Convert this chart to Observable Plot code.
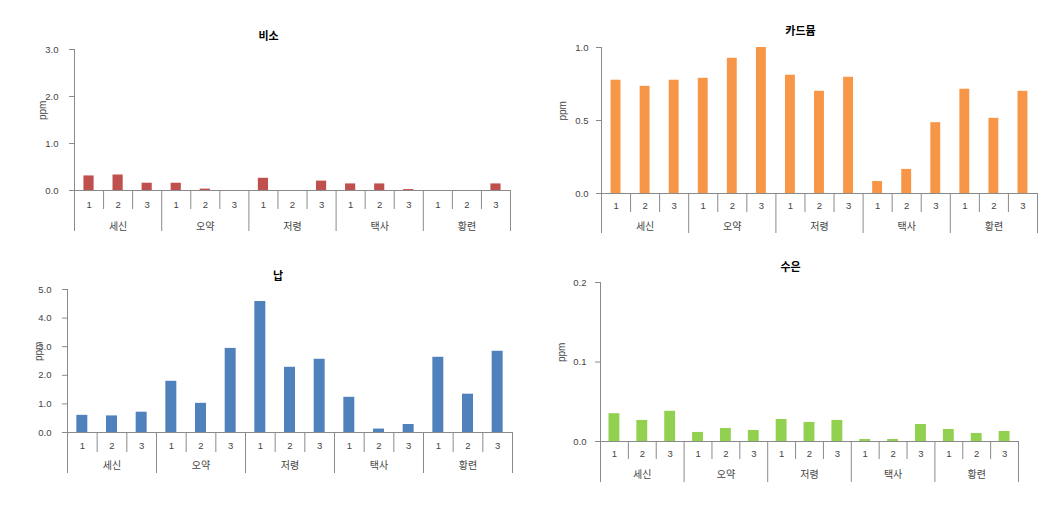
<!DOCTYPE html>
<html>
<head>
<meta charset="utf-8">
<script src="https://cdn.jsdelivr.net/npm/d3@7"></script>
<script src="https://cdn.jsdelivr.net/npm/@observablehq/plot@0.6"></script>
<style>
  html, body { margin: 0; padding: 0; background: #fff; }
  #root { position: relative; width: 1062px; height: 512px; overflow: hidden; }
  .panel { position: absolute; }
  .panel svg { font-family: "Liberation Sans", "Noto Sans CJK KR", sans-serif; background: #fff; }
</style>
</head>
<body>
<div id="root"></div>
<script>
// ---- data ----
const categories = ["세신", "오약", "저령", "택사", "황련"];
const replicates = ["1", "2", "3"];

const arsenicValues = [0.31, 0.33, 0.155, 0.155, 0.03, 0, 0.26, 0, 0.2, 0.14, 0.14, 0.02, 0, 0, 0.14];
const cadmiumValues = [0.776, 0.734, 0.776, 0.789, 0.926, 1.0, 0.81, 0.70, 0.796, 0.082, 0.165, 0.485, 0.714, 0.515, 0.70];
const leadValues = [0.60, 0.58, 0.71, 1.79, 1.02, 2.94, 4.58, 2.28, 2.56, 1.23, 0.12, 0.28, 2.63, 1.34, 2.84];
const mercuryValues = [0.035, 0.0265, 0.038, 0.0114, 0.0164, 0.0139, 0.0277, 0.024, 0.0265, 0.0025, 0.0025, 0.0214, 0.0151, 0.0101, 0.0126];

const arsenicTicks = [0, 1, 2, 3];
const cadmiumTicks = [0, 0.5, 1];
const leadTicks = [0, 1, 2, 3, 4, 5];
const mercuryTicks = [0, 0.1, 0.2];

const titles = ["비소", "카드뮴", "납", "수은"];
const yLabel = "ppm";

// ---- layout / style ----
const axisColor = "#8a8a8a";
const textColor = "#444";
const panels = [
  {title: titles[0], values: arsenicValues, ticks: arsenicTicks, color: "#c0504d",
   left: 0, top: 0, width: 520, height: 256, ml: 74, mr: 10, mt: 49, mb: 66,
   tickPad: 11, titleDx: -24, titleDy: -17, labelDx: -32, bf: 0.35,
   numDy: 14, minorLen: 19, catDy: 36, groupLen: 41},
  {title: titles[1], values: cadmiumValues, ticks: cadmiumTicks, color: "#f79646",
   left: 520, top: 0, width: 542, height: 256, ml: 81, mr: 25, mt: 47, mb: 63,
   tickPad: 8, titleDx: -19, titleDy: -20, labelDx: -39, bf: 0.34,
   numDy: 12, minorLen: 19, catDy: 33, groupLen: 40},
  {title: titles[2], values: leadValues, ticks: leadTicks, color: "#4f81bd",
   left: 0, top: 256, width: 520, height: 256, ml: 67, mr: 8, mt: 33, mb: 80,
   tickPad: 11, titleDx: -12, titleDy: -17, labelDx: -29, bf: 0.37,
   numDy: 13, minorLen: 20, catDy: 33, groupLen: 41},
  {title: titles[3], values: mercuryValues, ticks: mercuryTicks, color: "#92d050",
   left: 520, top: 256, width: 542, height: 256, ml: 80, mr: 44, mt: 26, mb: 71,
   tickPad: 9, titleDx: -19, titleDy: -19, labelDx: -39, bf: 0.39,
   numDy: 12, minorLen: 18, catDy: 33, groupLen: 41}
];

const root = document.getElementById("root");
const n = categories.length * replicates.length;
const fmt = d3.format(".1f");

for (const p of panels) {
  const rows = categories.flatMap((c, g) => replicates.map((r, j) => ({
    cat: c, rep: r, i: g * replicates.length + j, v: p.values[g * replicates.length + j]
  })));
  const ymax = d3.max(p.ticks);
  const boundaries = d3.range(n + 1);
  const groupBounds = boundaries.filter(b => b % replicates.length === 0);
  const minorBounds = boundaries.filter(b => b % replicates.length !== 0);

  const chart = Plot.plot({
    width: p.width,
    height: p.height,
    marginLeft: p.ml,
    marginRight: p.mr,
    marginTop: p.mt,
    marginBottom: p.mb,
    style: {color: textColor, fontSize: "9.5px", overflow: "visible"},
    x: {domain: [0, n], axis: null},
    y: {domain: [0, ymax], axis: null},
    marks: [
      Plot.rectY(rows, {
        x1: d => d.i + (1 - p.bf) / 2,
        x2: d => d.i + (1 + p.bf) / 2,
        y: "v",
        fill: p.color
      }),
      Plot.axisY(p.ticks, {
        tickFormat: fmt, tickSize: 5, tickPadding: p.tickPad,
        stroke: axisColor, fill: textColor, fontSize: 9.5, label: null
      }),
      Plot.ruleX([0], {y1: 0, y2: ymax, stroke: axisColor}),
      Plot.ruleY([0], {stroke: axisColor}),
      Plot.ruleX(minorBounds, {y1: 0, y2: 0, insetBottom: -p.minorLen, stroke: axisColor}),
      Plot.ruleX(groupBounds, {y1: 0, y2: 0, insetBottom: -p.groupLen, stroke: axisColor}),
      Plot.text(rows, {
        x: d => d.i + 0.5, y: 0, text: "rep", dy: p.numDy,
        fontSize: 9.5, fill: textColor
      }),
      Plot.text(categories, {
        x: (d, g) => g * replicates.length + replicates.length / 2, y: 0, text: d => d,
        dy: p.catDy, fontSize: 10, fill: textColor
      }),
      Plot.text([p.title], {
        frameAnchor: "top", dx: p.titleDx, dy: p.titleDy, text: d => d,
        fontSize: 11, fontWeight: "bold", fill: "#000"
      }),
      Plot.text([yLabel], {
        frameAnchor: "left", dx: p.labelDx, text: d => d, rotate: -90,
        fontSize: 10, fill: textColor
      })
    ]
  });
  const div = document.createElement("div");
  div.className = "panel";
  div.style.left = p.left + "px";
  div.style.top = p.top + "px";
  div.appendChild(chart);
  root.appendChild(div);
}
</script>
</body>
</html>
